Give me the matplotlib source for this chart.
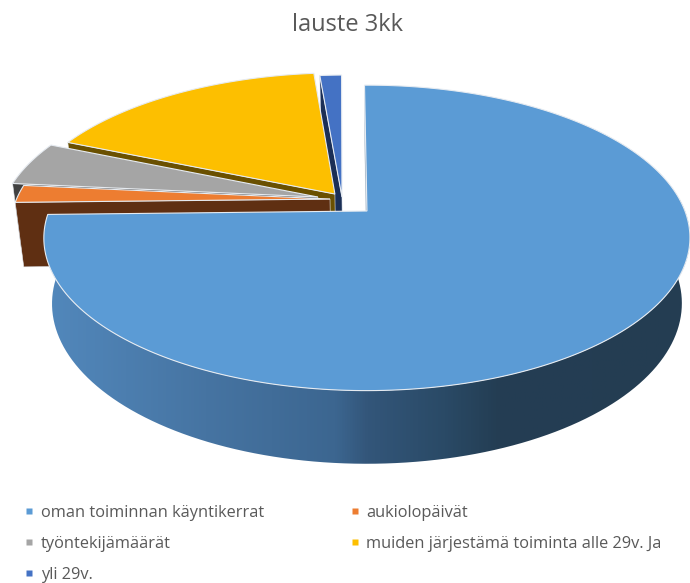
#!/usr/bin/env python
# -*- coding=UTF-8 -*-
"""3D exploded pie, drawn by hand since matplotlib has no such thing"""
import matplotlib
matplotlib.use('Agg')
import matplotlib.pyplot as plt
from matplotlib.colors import LinearSegmentedColormap
from matplotlib.lines import Line2D
from matplotlib.patches import PathPatch, Polygon
from matplotlib.path import Path
import numpy as np

title = "lauste 3kk"
labels = ["oman toiminnan käyntikerrat", "aukiolopäivät", "työntekijämäärät",
          "muiden järjestämä toiminta alle 29v. Ja", "yli 29v."]
shares = [74.8, 1.9, 4.8, 17.1, 1.3]

top_colors = ["#5b9bd5", "#ed7d31", "#a5a5a5", "#fdbf00", "#4472c4"]
cut_colors = ["#3c5f7f", "#5f2f12", "#414141", "#6a5000", "#1b2f56"]
# wedge apex in the pie plane, in radii
apex_offsets = [(-0.008, 0.0), (-0.126, 0.082), (-0.165, 0.096), (-0.111, 0.117), (-0.088, 0.096)]
draw_order = [4, 3, 2, 1, 0]
start_angle = -0.6

# projection of the pie plane onto the picture (pixels)
CX, CY = 369.5, 211.0
RX, RY = 318.0, 148.0
TILT = 0.176
DEPTH = 66.6
SHRINK = 0.025
EDGE = "#e6ebf1"


def project(u, v, z=0.0):
    w = 1 + TILT * v + SHRINK * z
    return np.column_stack([CX + RX * u / w, CY + (-RY * v + DEPTH * z) / w])


def arc(a0, a1, offset, z=0.0):
    t = np.radians(np.linspace(a0, a1, 240))
    return project(offset[0] + np.sin(t), offset[1] + np.cos(t), z)


def cut_face(angle, offset):
    t = np.radians(angle)
    us = np.array([offset[0], offset[0] + np.sin(t)])
    vs = np.array([offset[1], offset[1] + np.cos(t)])
    return np.vstack([project(us, vs, 0), project(us, vs, 1)[::-1]])


fig = plt.figure(figsize=(6.9, 5.83), dpi=100)
ax = fig.add_axes([0, 0, 1, 1])
ax.set_xlim(0, 690)
ax.set_ylim(583, 0)
ax.axis('off')

ends = start_angle + np.cumsum(shares) * 3.6
starts = np.concatenate([[start_angle], ends[:-1]])

# shading of the rounded wall runs left to right over the picture
side_cmap = LinearSegmentedColormap.from_list(
    "side", [(0.0, "#5288bc"), (0.25, "#4674a2"), (0.45, "#3c6690"), (0.5, "#33567a"),
             (0.62, "#2a4a66"), (0.7, "#243e54"), (1.0, "#243d52")])

for pos, i in enumerate(draw_order):
    a0, a1, off = starts[i], ends[i], apex_offsets[i]
    z = 2 * pos + 1
    # only the cut at the start of a slice faces the viewer
    ax.add_patch(Polygon(cut_face(a0, off), closed=True, facecolor=cut_colors[i],
                         edgecolor=EDGE, linewidth=0.4, zorder=z))
    if i == 0:
        top_arc = arc(80.0, a1, off, 0)
        low_arc = arc(80.0, a1, off, 1)
        wall = Path(np.vstack([top_arc, low_arc[::-1], top_arc[:1]]))
        patch = PathPatch(wall, facecolor='none', edgecolor='none', zorder=z)
        ax.add_patch(patch)
        grad = np.linspace(0, 1, 512).reshape(1, -1)
        im = ax.imshow(grad, cmap=side_cmap, extent=(45, 690, 480, 200), aspect='auto', zorder=z)
        im.set_clip_path(patch)
        ax.set_xlim(0, 690)
        ax.set_ylim(583, 0)
    outline = np.vstack([project(np.array([off[0]]), np.array([off[1]])), arc(a0, a1, off)])
    ax.add_patch(Polygon(outline, closed=True, facecolor=top_colors[i],
                         edgecolor=EDGE, linewidth=0.8, zorder=z + 1))

handles = [Line2D([], [], linestyle='none', marker='s', markersize=5,
                  markerfacecolor=c, markeredgecolor='none') for c in top_colors]
# legend fills column by column
order = [0, 2, 4, 1, 3]
legend = ax.legend([handles[i] for i in order], [labels[i] for i in order], ncol=2,
                   loc='lower left', bbox_to_anchor=(25, 583), bbox_transform=ax.transData,
                   frameon=False, handlelength=0.5, handletextpad=0.45, columnspacing=5.3,
                   labelspacing=0.93, borderpad=0, borderaxespad=0,
                   prop={'family': 'Open Sans', 'size': 11.8}, labelcolor="#595959")
legend.set_zorder(30)

ax.text(347, 25, title, ha='center', va='center', family='Open Sans', fontsize=17, color="#595959")

fig.savefig("out.png", dpi=100)
